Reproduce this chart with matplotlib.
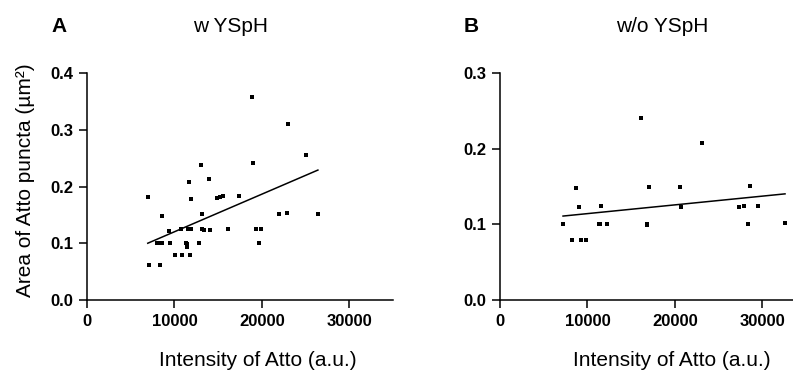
import numpy as np
import matplotlib
matplotlib.use("Agg")
import matplotlib.pyplot as plt

plt.rcParams['font.family'] = ['Liberation Sans', 'DejaVu Sans']

# Panel A: w YSpH
a_x = [6950, 7060, 8400, 8590, 8015, 8320, 8630, 9390, 9540, 10040, 10760, 10920,
       11300, 11490, 11490, 11600, 11950, 11790, 11720, 11870, 12820, 13090, 13210,
       13130, 13360, 13970, 14120, 14890, 15190, 15570, 16110, 17330, 18890, 19010,
       19310, 19620, 19890, 21950, 22940, 22900, 25080, 26410]
a_y = [0.181, 0.061, 0.061, 0.149, 0.101, 0.101, 0.101, 0.122, 0.100, 0.079, 0.125, 0.080,
       0.101, 0.099, 0.094, 0.125, 0.125, 0.080, 0.208, 0.178, 0.101, 0.239, 0.151,
       0.125, 0.123, 0.213, 0.123, 0.180, 0.181, 0.184, 0.125, 0.184, 0.359, 0.242,
       0.125, 0.101, 0.126, 0.152, 0.311, 0.153, 0.255, 0.151]

# Panel B: w/o YSpH
b_x = [7210, 8280, 8740, 9080, 9310, 9890, 11300, 11450, 11600, 12290, 16110, 16870,
       16870, 16990, 20610, 20650, 23130, 27290, 27860, 28320, 28550, 29540, 32600]
b_y = [0.100, 0.080, 0.148, 0.123, 0.079, 0.080, 0.100, 0.100, 0.124, 0.100, 0.241, 0.100,
       0.099, 0.150, 0.150, 0.123, 0.208, 0.123, 0.124, 0.101, 0.151, 0.125, 0.102]

titles = ["w YSpH", "w/o YSpH"]
panel_letters = ["A", "B"]
xticks = [0, 10000, 20000, 30000]
a_yticks = [0.0, 0.1, 0.2, 0.3, 0.4]
b_yticks = [0.0, 0.1, 0.2, 0.3]
xlabel = "Intensity of Atto (a.u.)"
ylabel = "Area of Atto puncta (µm²)"

fig = plt.figure(figsize=(7.93, 3.74), dpi=100)
W, H = 793, 374

def make_axes(left_px, width_px):
    return fig.add_axes([left_px / W, 1 - 300 / H, width_px / W, 226.7 / H])

axA = make_axes(87, 306)
axB = make_axes(500, 306)

panels = [(axA, a_x, a_y, a_yticks), (axB, b_x, b_y, b_yticks)]
for ax, xs, ys, yt in panels:
    xs = np.array(xs, float)
    ys = np.array(ys, float)
    ax.plot(xs, ys, 's', color='black', ms=3.3, mec='black', mew=0)
    k, b = np.polyfit(xs, ys, 1)
    xl = np.array([xs.min(), xs.max()])
    ax.plot(xl, k * xl + b, color='black', lw=1.1)
    ax.set_xlim(0, 35000)
    ax.set_ylim(0, yt[-1])
    ax.set_xticks(xticks)
    ax.set_xticklabels([str(t) for t in xticks])
    ax.set_yticks(yt)
    ax.set_yticklabels([f"{t:.1f}" for t in yt])
    for s in ['top', 'right']:
        ax.spines[s].set_visible(False)
    for s in ['left', 'bottom']:
        ax.spines[s].set_linewidth(1.1)
    ax.tick_params(direction='out', length=5.5, width=1.1, colors='black')
    ax.tick_params(axis='x', pad=4.5)
    ax.tick_params(axis='y', pad=4.5)
    for lab in ax.get_xticklabels() + ax.get_yticklabels():
        lab.set_fontweight('bold')
        lab.set_fontsize(12)
    ax.spines['left'].set_clip_on(False)
    ax.spines['bottom'].set_clip_on(False)
    for ln in ax.lines:
        ln.set_clip_on(False)

fig.text(26 / W, 1 - 180 / H, ylabel, fontsize=15, rotation=90, ha='center', va='center')

fig.text(258 / W, 1 - 360 / H, xlabel, fontsize=15, ha='center', va='center')
fig.text(672 / W, 1 - 360 / H, xlabel, fontsize=15, ha='center', va='center')

fig.text(59 / W, 1 - 27 / H, panel_letters[0], fontsize=15, fontweight='bold', ha='center', va='center')
fig.text(231 / W, 1 - 27 / H, titles[0], fontsize=15, ha='center', va='center')
fig.text(471 / W, 1 - 27 / H, panel_letters[1], fontsize=15, fontweight='bold', ha='center', va='center')
fig.text(662 / W, 1 - 27 / H, titles[1], fontsize=15, ha='center', va='center')

fig.savefig("out.png", dpi=100)
